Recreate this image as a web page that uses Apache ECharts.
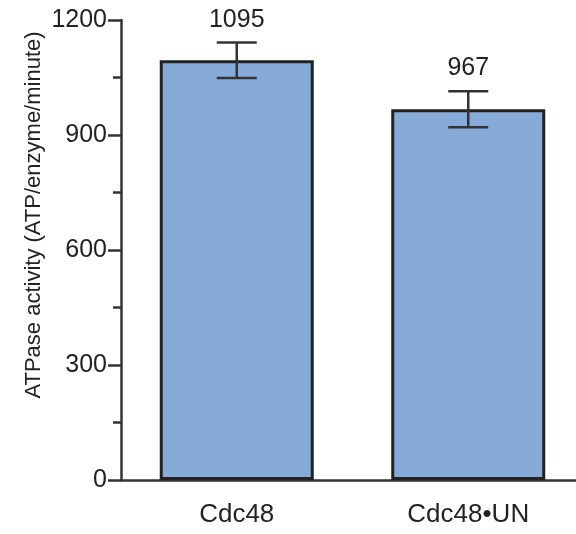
<!DOCTYPE html>
<html>
<head>
<meta charset="utf-8">
<script src="https://cdn.jsdelivr.net/npm/echarts@6/dist/echarts.min.js"></script>
<style>
html, body { margin: 0; padding: 0; background: #fff; }
#chart { width: 576px; height: 534px; }
</style>
</head>
<body>
<div id="chart"></div>
<script>
var categories = ['Cdc48', 'Cdc48\u2022UN'];
var activity = [1095, 967];
var errors = [46, 47];
var yTicks = [0, 300, 600, 900, 1200];

var myChart = echarts.init(document.getElementById('chart'));

var errData = activity.map(function (v, i) { return [i, v - errors[i], v + errors[i], v]; });

var option = {
    animation: false,
    textStyle: { fontFamily: 'Liberation Sans, Arial, sans-serif' },
    grid: { left: 121, top: 20, width: 463, height: 460, outerBoundsMode: 'none', containLabel: false },
    graphic: [{
        type: 'text',
        x: 34, y: 215,
        rotation: Math.PI / 2,
        style: {
            text: 'ATPase activity (ATP/enzyme/minute)',
            fontSize: 22,
            fontFamily: 'Liberation Sans, Arial, sans-serif',
            fill: '#222',
            align: 'center',
            verticalAlign: 'middle'
        }
    }],
    xAxis: {
        type: 'category',
        data: categories,
        axisLine: { lineStyle: { color: '#333', width: 2.5 } },
        axisTick: { alignWithLabel: true, length: 14, lineStyle: { color: '#333', width: 2.5 } },
        axisLabel: { fontSize: 26, color: '#222', margin: 22 }
    },
    yAxis: {
        type: 'value',
        min: yTicks[0],
        max: yTicks[yTicks.length - 1],
        interval: 300,
        splitLine: { show: false },
        axisLine: { show: true, lineStyle: { color: '#333', width: 2.5 } },
        axisTick: { show: true, length: 13, lineStyle: { color: '#333', width: 2.5 } },
        minorTick: { show: true, splitNumber: 2, length: 8, lineStyle: { color: '#333', width: 2.5 } },
        axisLabel: { fontSize: 25, color: '#222', margin: 14, formatter: function (v) { return String(v); } }
    },
    series: [
        {
            type: 'bar',
            data: activity,
            barWidth: 154,
            itemStyle: { color: '#86abd9', borderColor: '#222', borderWidth: 3 }
        },
        {
            type: 'custom',
            data: errData,
            z: 10,
            renderItem: function (params, api) {
                var x = api.value(0);
                var lo = api.coord([x, api.value(1)]);
                var hi = api.coord([x, api.value(2)]);
                var cap = 20;
                var st = { stroke: '#333', lineWidth: 2.5 };
                return {
                    type: 'group',
                    children: [
                        { type: 'line', shape: { x1: lo[0], y1: lo[1], x2: hi[0], y2: hi[1] }, style: st },
                        { type: 'line', shape: { x1: lo[0] - cap, y1: lo[1], x2: lo[0] + cap, y2: lo[1] }, style: st },
                        { type: 'line', shape: { x1: hi[0] - cap, y1: hi[1], x2: hi[0] + cap, y2: hi[1] }, style: st },
                        {
                            type: 'text',
                            x: hi[0], y: hi[1] - 23,
                            style: {
                                text: String(api.value(3)),
                                fontSize: 25,
                                fontFamily: 'Liberation Sans, Arial, sans-serif',
                                fill: '#222',
                                align: 'center',
                                verticalAlign: 'middle'
                            }
                        }
                    ]
                };
            }
        }
    ]
};
myChart.setOption(option);
</script>
</body>
</html>
